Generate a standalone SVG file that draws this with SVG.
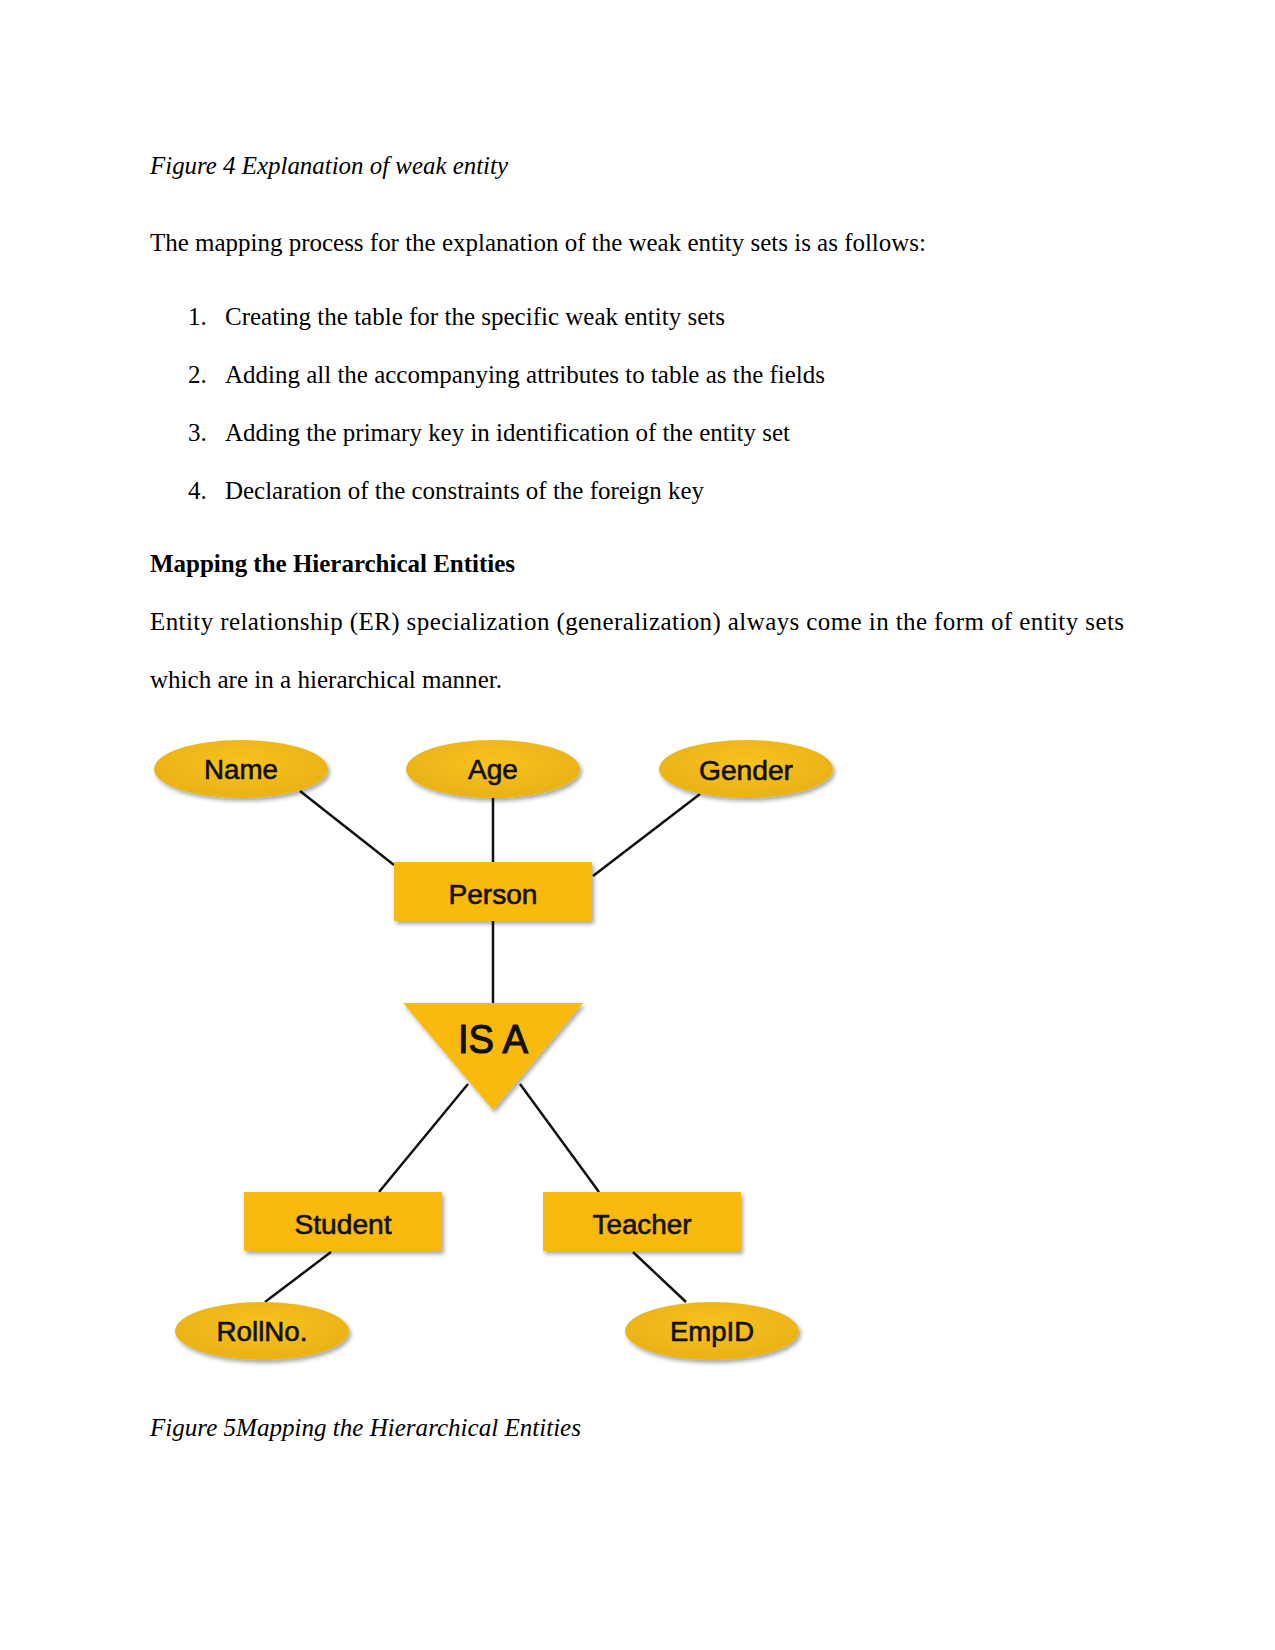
<svg xmlns="http://www.w3.org/2000/svg" width="1275" height="1650" viewBox="0 0 1275 1650">
<defs>
<filter id="sh" x="-20%" y="-20%" width="150%" height="160%">
<feGaussianBlur in="SourceAlpha" stdDeviation="2"/>
<feOffset dx="2" dy="3" result="b"/>
<feComponentTransfer><feFuncA type="linear" slope="0.35"/></feComponentTransfer>
<feMerge><feMergeNode/><feMergeNode in="SourceGraphic"/></feMerge>
</filter>
<radialGradient id="eg" cx="50%" cy="40%" r="60%">
<stop offset="0" stop-color="#F7C21E"/>
<stop offset="1" stop-color="#E9B218"/>
</radialGradient>
</defs>
<style>
.body{font-family:"Liberation Serif","Times New Roman",serif;font-size:25px;fill:#000}
.it{font-style:italic}
.b{font-weight:bold}
.lbl{font-family:"Liberation Sans",Arial,sans-serif;font-size:27px;fill:#111;stroke:#111;stroke-width:0.6;text-anchor:middle}
.ent{fill:#FAB90F;filter:url(#sh)}
.att{fill:url(#eg);filter:url(#sh)}
.ln{stroke:#111;stroke-width:2.5;fill:none}
</style>
<rect width="1275" height="1650" fill="#fff"/>
<g id="text">
<text class="body it" x="150" y="174" textLength="358" lengthAdjust="spacingAndGlyphs">Figure 4 Explanation of weak entity</text>
<text class="body" x="150" y="251" textLength="776" lengthAdjust="spacingAndGlyphs">The mapping process for the explanation of the weak entity sets is as follows:</text>
<text class="body" x="188" y="325">1.</text>
<text class="body" x="225" y="325" textLength="500" lengthAdjust="spacingAndGlyphs">Creating the table for the specific weak entity sets</text>
<text class="body" x="188" y="383">2.</text>
<text class="body" x="225" y="383" textLength="600" lengthAdjust="spacingAndGlyphs">Adding all the accompanying attributes to table as the fields</text>
<text class="body" x="188" y="441">3.</text>
<text class="body" x="225" y="441" textLength="565" lengthAdjust="spacingAndGlyphs">Adding the primary key in identification of the entity set</text>
<text class="body" x="188" y="499">4.</text>
<text class="body" x="225" y="499" textLength="479" lengthAdjust="spacingAndGlyphs">Declaration of the constraints of the foreign key</text>
<text class="body b" x="150" y="572" textLength="365" lengthAdjust="spacingAndGlyphs">Mapping the Hierarchical Entities</text>
<text class="body" x="150" y="630" textLength="974" lengthAdjust="spacing">Entity relationship (ER) specialization (generalization) always come in the form of entity sets</text>
<text class="body" x="150" y="688" textLength="352" lengthAdjust="spacingAndGlyphs">which are in a hierarchical manner.</text>
<text class="body it" x="150" y="1436" textLength="431" lengthAdjust="spacingAndGlyphs">Figure 5Mapping the Hierarchical Entities</text>
</g>
<g id="connectors">
<line class="ln" x1="300" y1="791" x2="394" y2="865"/>
<line class="ln" x1="493" y1="798" x2="493" y2="862"/>
<line class="ln" x1="700" y1="794" x2="593" y2="876"/>
<line class="ln" x1="493" y1="921" x2="493" y2="1003"/>
<line class="ln" x1="468" y1="1084" x2="379" y2="1192"/>
<line class="ln" x1="520" y1="1084" x2="599" y2="1192"/>
<line class="ln" x1="331" y1="1252" x2="265" y2="1302"/>
<line class="ln" x1="633" y1="1252" x2="686" y2="1302"/>
</g>
<g id="name"><ellipse class="att" cx="241" cy="769" rx="87" ry="29"/><text class="lbl" x="241" y="779" textLength="74" lengthAdjust="spacingAndGlyphs">Name</text></g>
<g id="age"><ellipse class="att" cx="493" cy="769" rx="87" ry="29"/><text class="lbl" x="493" y="779" textLength="50" lengthAdjust="spacingAndGlyphs">Age</text></g>
<g id="gender"><ellipse class="att" cx="746" cy="769" rx="87" ry="29"/><text class="lbl" x="746" y="780" textLength="94" lengthAdjust="spacingAndGlyphs">Gender</text></g>
<g id="person"><rect class="ent" x="394" y="862" width="198" height="59"/><text class="lbl" x="493" y="904" textLength="89" lengthAdjust="spacingAndGlyphs">Person</text></g>
<g id="isa"><polygon class="ent" points="403,1003 583,1003 493,1110"/><text class="lbl" x="493" y="1053" style="font-size:40px;stroke-width:1.2" textLength="70" lengthAdjust="spacingAndGlyphs">IS A</text></g>
<g id="student"><rect class="ent" x="244" y="1192" width="198" height="59"/><text class="lbl" x="343" y="1234" textLength="97" lengthAdjust="spacingAndGlyphs">Student</text></g>
<g id="teacher"><rect class="ent" x="543" y="1192" width="198" height="59"/><text class="lbl" x="642" y="1234" textLength="99" lengthAdjust="spacingAndGlyphs">Teacher</text></g>
<g id="rollno"><ellipse class="att" cx="262" cy="1331" rx="87" ry="29"/><text class="lbl" x="262" y="1341" textLength="91" lengthAdjust="spacingAndGlyphs">RollNo.</text></g>
<g id="empid"><ellipse class="att" cx="712" cy="1331" rx="87" ry="29"/><text class="lbl" x="712" y="1341" textLength="84" lengthAdjust="spacingAndGlyphs">EmpID</text></g>
</svg>
